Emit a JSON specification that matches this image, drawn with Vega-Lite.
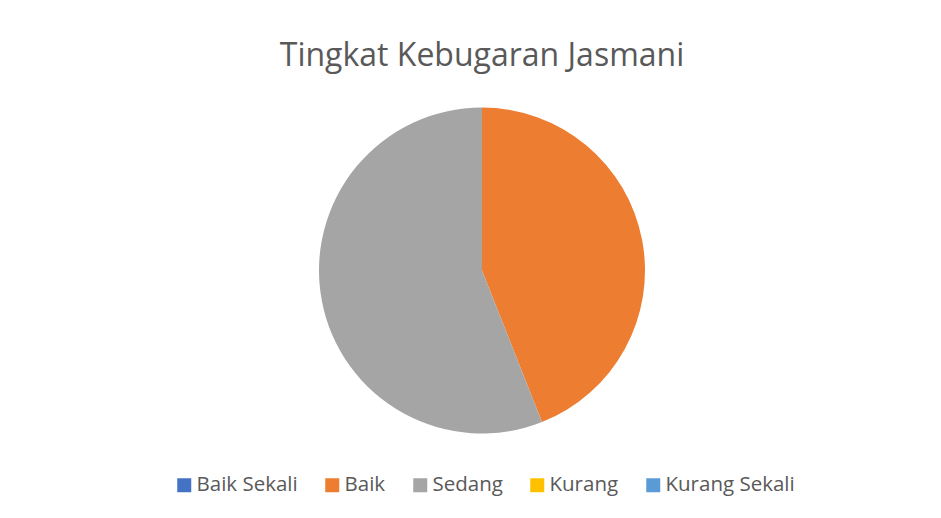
{
  "$schema": "https://vega.github.io/schema/vega-lite/v6.json",
  "autosize": "none",
  "width": 918,
  "height": 495,
  "padding": {"left": 23, "top": 23, "right": 0, "bottom": 0},
  "background": "white",
  "title": {
    "text": "Tingkat Kebugaran Jasmani",
    "font": "Open Sans",
    "fontSize": 32,
    "fontWeight": "normal",
    "color": "#595959",
    "anchor": "middle",
    "frame": "group",
    "baseline": "alphabetic",
    "offset": -75
  },
  "data": {
    "values": [
      {"category": "Baik Sekali", "value": 0},
      {"category": "Baik", "value": 44},
      {"category": "Sedang", "value": 56},
      {"category": "Kurang", "value": 0},
      {"category": "Kurang Sekali", "value": 0}
    ]
  },
  "mark": {"type": "arc", "outerRadius": 163, "strokeWidth": 0},
  "encoding": {
    "theta": {"field": "value", "type": "quantitative", "stack": true},
    "color": {
      "field": "category",
      "type": "nominal",
      "scale": {
        "domain": ["Baik Sekali", "Baik", "Sedang", "Kurang", "Kurang Sekali"],
        "range": ["#4472C4", "#ED7D31", "#A5A5A5", "#FFC000", "#5B9BD5"]
      },
      "legend": {
        "orient": "none",
        "legendX": 151,
        "legendY": 452,
        "direction": "horizontal",
        "columns": 5,
        "gridAlign": "none",
        "columnPadding": 24,
        "symbolType": "square",
        "symbolSize": 196,
        "symbolStrokeWidth": 0,
        "labelFont": "Open Sans",
        "labelFontSize": 20.5,
        "labelColor": "#595959",
        "labelOffset": 2,
        "labelLimit": 0,
        "title": null
      }
    },
    "order": {"field": "value", "type": "quantitative", "sort": "ascending"}
  },
  "config": {"view": {"stroke": null}}
}
